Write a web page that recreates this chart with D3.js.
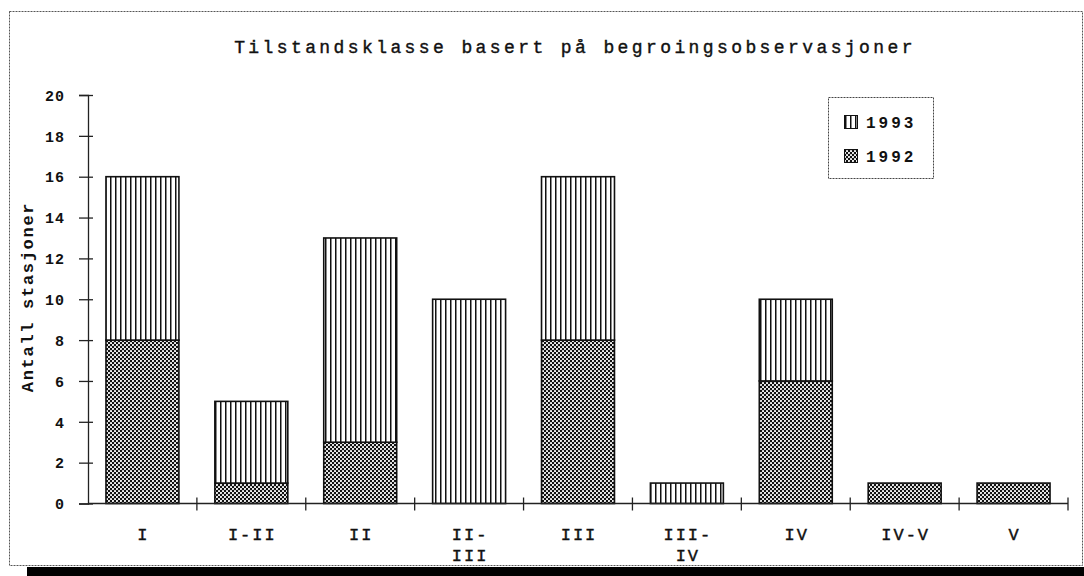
<!DOCTYPE html>
<html><head><meta charset="utf-8">
<script src="https://cdn.jsdelivr.net/npm/d3@7"></script>
<style>html,body{margin:0;padding:0;background:#fff;}</style>
</head><body>
<svg id="c" width="1084" height="576"></svg>
<script>
const categories = ["I","I-II","II","II-III","III","III-IV","IV","IV-V","V"];
const values1992 = [8,1,3,0,8,0,6,1,1];
const values1993 = [8,4,10,10,8,1,4,0,0];
const yTicks = [0,2,4,6,8,10,12,14,16,18,20];
const seriesNames = ["1992","1993"];
const title = "Tilstandsklasse basert på begroingsobservasjoner";
const yLabel = "Antall stasjoner";

const svg = d3.select("#c");
const defs = svg.append("defs");
const cross = defs.append("pattern").attr("id","p1992").attr("patternUnits","userSpaceOnUse")
  .attr("width",4).attr("height",4);
cross.append("rect").attr("width",4).attr("height",4).attr("fill","#111");
cross.append("circle").attr("cx",1).attr("cy",1).attr("r",1.05).attr("fill","#fff");
cross.append("circle").attr("cx",3).attr("cy",3).attr("r",1.05).attr("fill","#fff");
const vert = defs.append("pattern").attr("id","p1993").attr("patternUnits","userSpaceOnUse")
  .attr("width",5).attr("height",5);
vert.append("rect").attr("width",5).attr("height",5).attr("fill","#fff");
vert.append("rect").attr("x",0).attr("y",0).attr("width",1.5).attr("height",5).attr("fill","#111");

// frame and shadow
svg.append("rect").attr("x",27).attr("y",567).attr("width",1057).attr("height",9).attr("fill","#000");
svg.append("rect").attr("x",9.5).attr("y",11.5).attr("width",1073).attr("height",554)
  .attr("fill","none").attr("stroke","#555").attr("stroke-width",1).attr("stroke-dasharray","2,1");

const font = "'Liberation Mono','Courier New',monospace";
svg.append("text").attr("x",575).attr("y",53).attr("text-anchor","middle")
  .attr("font-family",font).attr("font-size",18).attr("letter-spacing",3.4)
  .attr("fill","#111").attr("stroke","#111").attr("stroke-width",0.4).text(title);

const x = d3.scaleBand().domain(categories).range([88,1068]).padding(0);
const y = d3.scaleLinear().domain([0,20]).range([503.5,95]);

// bars
const bw = x.bandwidth()*0.67;
const g = svg.append("g");
categories.forEach((c,i)=>{
  const cx = x(c)+x.bandwidth()/2;
  const v2 = values1992[i], v3 = values1993[i];
  if (v2>0) g.append("rect").attr("x",cx-bw/2).attr("y",y(v2)).attr("width",bw).attr("height",y(0)-y(v2))
    .attr("fill","url(#p1992)").attr("stroke","#111").attr("stroke-width",1.6);
  if (v3>0) g.append("rect").attr("x",cx-bw/2).attr("y",y(v2+v3)).attr("width",bw).attr("height",y(v2)-y(v2+v3))
    .attr("fill","url(#p1993)").attr("stroke","#111").attr("stroke-width",1.6);
});

// y axis
const yAxis = d3.axisLeft(y).tickValues(yTicks).tickSize(9).tickPadding(14).tickFormat(d3.format("d"));
const ya = svg.append("g").attr("transform","translate(88,0)").call(yAxis);
ya.select(".domain").attr("stroke","#222").attr("stroke-width",1.3);
ya.selectAll(".tick line").attr("stroke","#222").attr("stroke-width",1.3).attr("x2",-9).attr("x1",5);
ya.selectAll(".tick text").attr("font-family",font).attr("font-size",15).attr("font-weight","bold")
  .attr("letter-spacing",1).attr("fill","#111").attr("dy","0.35em");

// x axis
const xa = svg.append("g");
xa.append("line").attr("x1",88).attr("x2",1068).attr("y1",y(0)).attr("y2",y(0)).attr("stroke","#222").attr("stroke-width",1.3);
const bounds = categories.map(c=>x(c)+x.bandwidth());
xa.selectAll("line.t").data(bounds).enter().append("line").attr("class","t")
  .attr("x1",d=>d).attr("x2",d=>d).attr("y1",y(0)-6).attr("y2",y(0)+7).attr("stroke","#222").attr("stroke-width",1.3);
categories.forEach(c=>{
  const cx = x(c)+x.bandwidth()/2;
  const parts = c.split("-");
  const lines = (parts.length===2 && c.length>4) ? [parts[0]+"-", parts[1]] : [c];
  const t = xa.append("text").attr("text-anchor","middle").attr("font-family",font)
    .attr("font-size",17).attr("letter-spacing",2).attr("fill","#111")
    .attr("stroke","#111").attr("stroke-width",0.4);
  lines.forEach((l,j)=>{
    t.append("tspan").attr("x",cx+1).attr("y",540+j*21).text(l);
  });
});

// y label
svg.append("text").attr("transform","translate(33,297) rotate(-90)").attr("text-anchor","middle")
  .attr("font-family",font).attr("font-size",17).attr("font-weight","bold").attr("letter-spacing",1.7)
  .attr("fill","#111").text(yLabel);

// legend
svg.append("rect").attr("x",828.5).attr("y",97.5).attr("width",105).attr("height",81)
  .attr("fill","#fff").attr("stroke","#444").attr("stroke-width",1).attr("stroke-dasharray","2,1");
const legendItems = [seriesNames[1], seriesNames[0]];
legendItems.forEach((s,i)=>{
  const cy = 122 + i*34;
  svg.append("rect").attr("x",844.5).attr("y",cy-6.5).attr("width",13).attr("height",13)
    .attr("fill","url(#p"+s+")").attr("stroke","#111").attr("stroke-width",1);
  svg.append("text").attr("x",866).attr("y",cy+5.5).attr("font-family",font).attr("font-size",16)
    .attr("font-weight","bold").attr("letter-spacing",3).attr("fill","#111").text(s);
});
</script>
</body></html>
